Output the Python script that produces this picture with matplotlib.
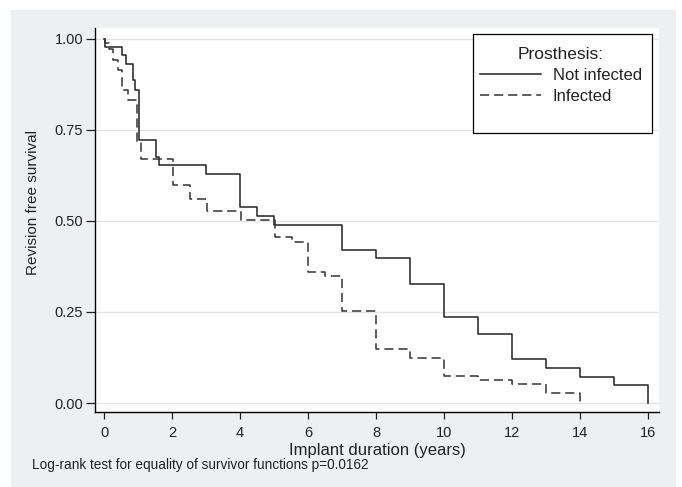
import matplotlib
matplotlib.use("Agg")
import matplotlib.pyplot as plt
from matplotlib.patches import Rectangle

plt.rcParams['font.family'] = ['Liberation Sans', 'DejaVu Sans']

# Kaplan-Meier estimates (time in years, survival after the step)
t_not_inf = [0, 0.03, 0.52, 0.65, 0.84, 0.92, 1.02, 1.53, 1.63, 3.0, 4.0, 4.5,
             5.0, 7.0, 8.0, 9.0, 10.0, 11.0, 12.0, 13.0, 14.0, 15.0, 16.0]
s_not_inf = [1.0, 0.977, 0.955, 0.931, 0.886, 0.861, 0.722, 0.677, 0.653, 0.630, 0.538, 0.514,
             0.490, 0.421, 0.398, 0.328, 0.235, 0.190, 0.120, 0.095, 0.072, 0.049, 0.0]

t_inf = [0, 0.04, 0.15, 0.25, 0.42, 0.52, 0.72, 0.96, 1.1, 2.03, 2.52, 3.02,
         4.02, 5.02, 5.52, 6.0, 6.5, 7.0, 8.0, 9.0, 10.0, 11.0, 12.0, 13.0, 14.0]
s_inf = [1.0, 0.988, 0.972, 0.942, 0.915, 0.860, 0.832, 0.718, 0.670, 0.599, 0.560, 0.526,
         0.503, 0.457, 0.443, 0.361, 0.349, 0.253, 0.147, 0.123, 0.074, 0.063, 0.051, 0.027, 0.0]

x_ticks = [0, 2, 4, 6, 8, 10, 12, 14, 16]
y_ticks = [0.0, 0.25, 0.5, 0.75, 1.0]
y_ticklabels = ['0.00', '0.25', '0.50', '0.75', '1.00']

W, H = 682, 487
fig = plt.figure(figsize=(W / 100, H / 100), dpi=100, facecolor='white')

# grau Hintergrund wie in Stata
fig.patches.append(Rectangle((11 / W, 0), (676 - 11) / W, (487 - 10) / H,
                             transform=fig.transFigure, facecolor='#eeeff1',
                             edgecolor='none', zorder=-5))

ax = fig.add_axes([95 / W, 75 / H, 564 / W, 384 / H])
ax.set_facecolor('white')

ax.step(t_not_inf, s_not_inf, where='post', color='#222222', lw=1.1,
        label='Not infected')
ax.step(t_inf, s_inf, where='post', color='#333333', lw=1.1,
        dashes=(6, 3.2), label='Infected')

ax.set_xlim(-0.265, 16.32)
ax.set_ylim(-0.0247, 1.030)
ax.set_xticks(x_ticks)
ax.set_yticks(y_ticks)
ax.set_yticklabels(y_ticklabels)
ax.yaxis.grid(True, color='#e6e6e6', lw=1.0)
ax.set_axisbelow(True)

for side in ['top', 'right']:
    ax.spines[side].set_visible(False)
for side in ['left', 'bottom']:
    ax.spines[side].set_color('black')
    ax.spines[side].set_linewidth(1.0)

ax.tick_params(axis='y', length=6.5, width=0.9, pad=2, labelsize=10.5, colors='#222222')
ax.tick_params(axis='x', length=5, width=0.9, pad=5, labelsize=10.5, colors='#222222')

ax.set_xlabel('Implant duration (years)', fontsize=12, color='#222222', labelpad=2)
ax.set_ylabel('Revision free survival', fontsize=11, color='#222222')
ax.yaxis.set_label_coords(-0.098, 0.545)

# Legendenrahmen (etwas höher als der Inhalt, wie im Original)
ax.add_patch(Rectangle((473 / W, (487 - 133) / H), 179 / W, 99 / H,
                       transform=fig.transFigure, facecolor='white', edgecolor='black',
                       linewidth=0.9, clip_on=False, zorder=4))

leg = ax.legend(title='Prosthesis:', loc='upper right',
                bbox_to_anchor=(652 / W, (487 - 37) / H), bbox_transform=fig.transFigure,
                fontsize=12, title_fontsize=12.5, frameon=False,
                handlelength=3.7, handletextpad=0.7, labelspacing=0.35,
                borderpad=0.6, borderaxespad=0)
leg.set_zorder(5)
leg.get_title().set_color('#222222')
for txt in leg.get_texts():
    txt.set_color('#222222')

fig.text(32 / W, (487 - 465) / H, 'Log-rank test for equality of survivor functions p=0.0162',
         fontsize=9.8, color='#222222', va='center', ha='left')

fig.savefig('out.png', dpi=100)
